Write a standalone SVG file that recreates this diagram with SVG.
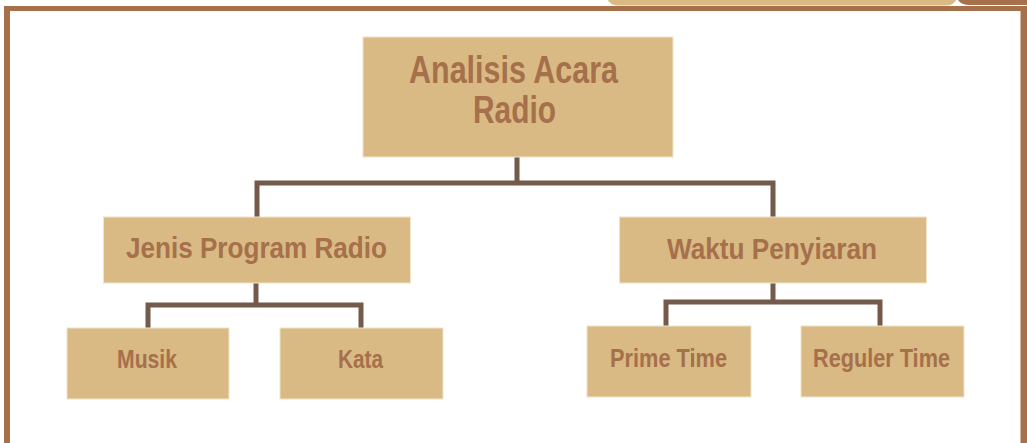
<svg xmlns="http://www.w3.org/2000/svg" width="1027" height="443" viewBox="0 0 1027 443">
<style>
.box{fill:#D9BA85;stroke:#F1E4C8;stroke-width:1}
.t{font-family:"Liberation Sans",Arial,sans-serif;font-weight:bold;fill:#A6704B;text-anchor:middle}
.c{fill:none;stroke:#735A4A;stroke-width:5;stroke-linecap:square;stroke-linejoin:miter}
</style>
<rect width="1027" height="443" fill="#FFFFFF"/>
<g id="frame">
<path d="M607,-10 H957 V-5 Q957,5.5 945,5.5 H619 Q607,5.5 607,-5 Z" fill="#D9BA85"/>
<path d="M955,-10 H1027 V5 H970 Q957,5 957,-5 Z" fill="#A6704B"/>
<rect x="4" y="6" width="1023" height="5" fill="#A6704B"/>
<rect x="4" y="6" width="6" height="437" fill="#A6704B"/>
<rect x="1020.5" y="6" width="6.5" height="437" fill="#A6704B"/>
</g>
<g id="connectors">
<path class="c" d="M517,157 V183 M257,216 V183 H773 V216"/>
<path class="c" d="M256,283 V305 M148,327 V305 H361 V327"/>
<path class="c" d="M773,283 V302 M666,325 V302 H880 V325"/>
</g>
<g id="root">
<rect class="box" x="363" y="37" width="310" height="120"/>
<text class="t" x="513.5" y="83" font-size="38" textLength="209" lengthAdjust="spacingAndGlyphs">Analisis Acara</text>
<text class="t" x="514.5" y="123" font-size="38" textLength="83" lengthAdjust="spacingAndGlyphs">Radio</text>
</g>
<g id="jenis">
<rect class="box" x="103.5" y="217" width="307" height="66"/>
<text class="t" x="256.5" y="258" font-size="30" textLength="261" lengthAdjust="spacingAndGlyphs">Jenis Program Radio</text>
</g>
<g id="waktu">
<rect class="box" x="619.5" y="217" width="307" height="66"/>
<text class="t" x="772" y="259" font-size="30" textLength="210" lengthAdjust="spacingAndGlyphs">Waktu Penyiaran</text>
</g>
<g id="musik">
<rect class="box" x="67" y="328" width="162" height="71"/>
<text class="t" x="147" y="368" font-size="25" textLength="60" lengthAdjust="spacingAndGlyphs">Musik</text>
</g>
<g id="kata">
<rect class="box" x="280" y="328" width="163" height="71"/>
<text class="t" x="360.5" y="368" font-size="25" textLength="45" lengthAdjust="spacingAndGlyphs">Kata</text>
</g>
<g id="prime">
<rect class="box" x="587" y="326" width="164" height="71"/>
<text class="t" x="668.5" y="367" font-size="25" textLength="117" lengthAdjust="spacingAndGlyphs">Prime Time</text>
</g>
<g id="reguler">
<rect class="box" x="801" y="326" width="163" height="71"/>
<text class="t" x="881.5" y="367" font-size="25" textLength="137" lengthAdjust="spacingAndGlyphs">Reguler Time</text>
</g>
</svg>
